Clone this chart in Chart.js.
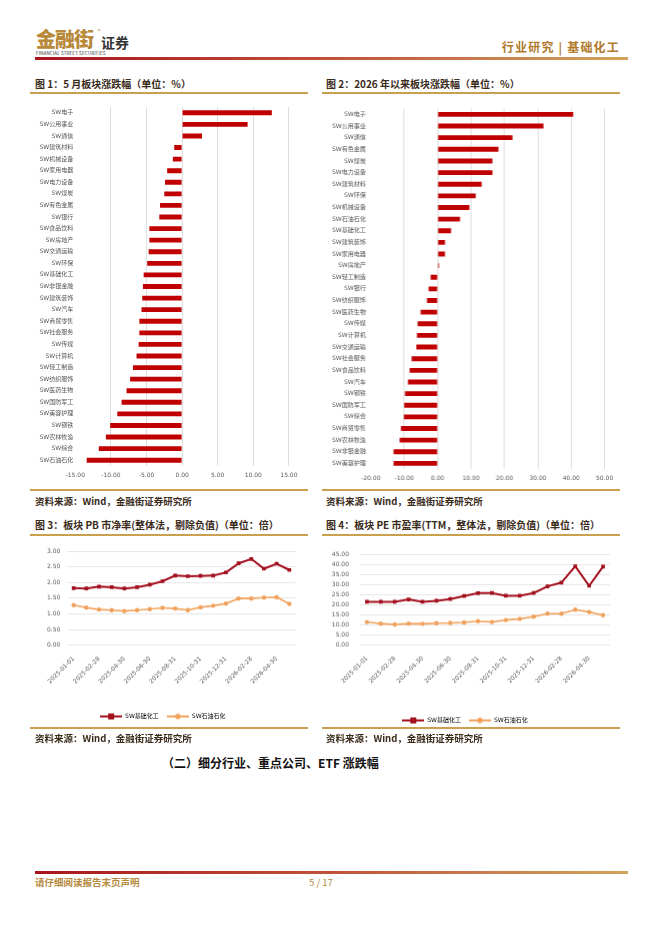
<!DOCTYPE html>
<html>
<head>
<meta charset="utf-8">
<script src="https://cdn.jsdelivr.net/npm/chart.js@4.4.1/dist/chart.umd.min.js"></script>
<style>
    body { margin: 0; background: #fff; }
    #page { position: relative; width: 662px; height: 936px; overflow: hidden; font-family: 'Noto Sans CJK SC', sans-serif; }
    .abs { position: absolute; white-space: nowrap; }
    .title { font-size: 10px; line-height: 10px; font-weight: bold; color: #3a2a1a; }
    .src { font-size: 9.5px; line-height: 10px; font-weight: bold; color: #3a2a1a; }
    .gold { position: absolute; height: 1.5px; background: #c9a04e; }
    .grad { position: absolute; height: 3px; background: linear-gradient(to right, #a8141c, #c0523a 50%, #cfa55c); }
    .box { position: absolute; }
</style>
</head>
<body>
<div id="page">
    <div class="abs" style="left:36px; top:28px; font-size:20px; line-height:22px; font-weight:900; color:#b8893a; letter-spacing:-1px;">金融街</div>
    <div class="abs" style="left:98px; top:28px; font-size:5px; line-height:5px; color:#b8893a;">®</div>
    <div class="abs" style="left:101px; top:35px; font-size:14px; line-height:15px; font-weight:bold; color:#333;">证券</div>
    <div class="abs" style="left:36px; top:51px; font-size:4.6px; line-height:5px; color:#333; letter-spacing:0.1px;">FINANCIAL STREET SECURITIES</div>
    <div class="abs" style="right:42px; top:40px; font-size:12px; line-height:13px; font-weight:bold; color:#b0792c; letter-spacing:1.2px;">行业研究 | 基础化工</div>
    <div class="grad" style="left:35px; top:57px; width:593px;"></div>

    <div class="abs title" style="left:35px; top:79px;">图 1：5 月板块涨跌幅（单位：%）</div>
    <div class="abs title" style="left:326px; top:79px;">图 2：2026 年以来板块涨跌幅（单位：%）</div>
    <div class="gold" style="left:30px; top:92px; width:278px;"></div>
    <div class="gold" style="left:322px; top:92px; width:298px;"></div>

    <div class="box" style="left:30px; top:100px; width:273px; height:386px;"><canvas id="monthChart"></canvas></div>
    <div class="box" style="left:320px; top:100px; width:297.7px; height:389.2px;"><canvas id="ytdChart"></canvas></div>

    <div class="gold" style="left:30px; top:489px; width:278px;"></div>
    <div class="gold" style="left:322px; top:489px; width:298px;"></div>
    <div class="abs src" style="left:35px; top:496px;">资料来源：Wind，金融街证券研究所</div>
    <div class="abs src" style="left:326px; top:496px;">资料来源：Wind，金融街证券研究所</div>

    <div class="abs title" style="left:35px; top:520px;">图 3：板块 PB 市净率(整体法，剔除负值)（单位：倍）</div>
    <div class="abs title" style="left:326px; top:520px;">图 4：板块 PE 市盈率(TTM，整体法，剔除负值)（单位：倍）</div>
    <div class="gold" style="left:30px; top:534px; width:278px;"></div>
    <div class="gold" style="left:322px; top:534px; width:298px;"></div>

    <div class="box" style="left:30px; top:540px; width:270px; height:188.5px;"><canvas id="pbChart"></canvas></div>
    <div class="box" style="left:320px; top:540px; width:295px; height:192.5px;"><canvas id="peChart"></canvas></div>

    <div class="gold" style="left:30px; top:727px; width:278px;"></div>
    <div class="gold" style="left:322px; top:727px; width:298px;"></div>
    <div class="abs src" style="left:35px; top:733px;">资料来源：Wind，金融街证券研究所</div>
    <div class="abs src" style="left:326px; top:733px;">资料来源：Wind，金融街证券研究所</div>

    <div class="abs" style="left:162px; top:756px; font-size:12px; line-height:13px; font-weight:bold; color:#111;">（二）细分行业、重点公司、ETF 涨跌幅</div>

    <div class="grad" style="left:35px; top:871px; width:593px;"></div>
    <div class="abs" style="left:35px; top:877px; font-size:9.5px; line-height:10px; font-weight:bold; color:#b5893c;">请仔细阅读报告末页声明</div>
    <div class="abs" style="left:309px; top:877px; font-size:9.5px; line-height:10px; color:#b5893c;">5 / 17</div>
</div>

<script>
// Figure 1: May sector returns (%)
const monthSectors = ['SW电子', 'SW公用事业', 'SW通信', 'SW建筑材料', 'SW机械设备', 'SW家用电器', 'SW电力设备', 'SW煤炭',
    'SW有色金属', 'SW银行', 'SW食品饮料', 'SW房地产', 'SW交通运输', 'SW环保', 'SW基础化工', 'SW非银金融', 'SW建筑装饰',
    'SW汽车', 'SW商贸零售', 'SW社会服务', 'SW传媒', 'SW计算机', 'SW轻工制造', 'SW纺织服饰', 'SW医药生物', 'SW国防军工',
    'SW美容护理', 'SW钢铁', 'SW农林牧渔', 'SW综合', 'SW石油石化'];
const monthReturns = [12.6, 9.2, 2.8, -1.1, -1.3, -2.1, -2.4, -2.5, -3.1, -3.2, -4.6, -4.6, -4.7, -4.9, -5.4, -5.5, -5.6,
    -5.7, -6.0, -6.0, -6.1, -6.4, -6.9, -7.3, -7.8, -8.5, -9.1, -10.1, -10.7, -11.7, -13.4];

// Figure 2: returns since start of 2026 (%)
const ytdSectors = ['SW电子', 'SW公用事业', 'SW通信', 'SW有色金属', 'SW煤炭', 'SW电力设备', 'SW建筑材料', 'SW环保',
    'SW机械设备', 'SW石油石化', 'SW基础化工', 'SW建筑装饰', 'SW家用电器', 'SW房地产', 'SW轻工制造', 'SW银行', 'SW纺织服饰',
    'SW医药生物', 'SW传媒', 'SW计算机', 'SW交通运输', 'SW社会服务', 'SW食品饮料', 'SW汽车', 'SW钢铁', 'SW国防军工',
    'SW综合', 'SW商贸零售', 'SW农林牧渔', 'SW非银金融', 'SW美容护理'];
const ytdReturns = [40.6, 31.7, 22.4, 18.2, 16.4, 16.4, 13.2, 11.4, 9.5, 6.7, 4.0, 2.2, 2.2, 0.4, -2.1, -2.7, -3.2,
    -5.1, -6.0, -6.2, -6.4, -7.8, -8.4, -8.9, -9.8, -10.0, -10.1, -11.0, -11.4, -13.2, -13.2];

// Figures 3/4: valuation history
const valuationDates = ['2025-01-01', '2025-01-31', '2025-02-28', '2025-03-31', '2025-04-30', '2025-05-31', '2025-06-30',
    '2025-07-31', '2025-08-31', '2025-09-30', '2025-10-31', '2025-11-30', '2025-12-31', '2026-01-31', '2026-02-28',
    '2026-03-31', '2026-04-30', '2026-05-31'];
const chemPB = [1.82, 1.81, 1.87, 1.85, 1.81, 1.85, 1.93, 2.04, 2.22, 2.20, 2.21, 2.22, 2.32, 2.61, 2.75, 2.44, 2.60, 2.40];
const petroPB = [1.28, 1.20, 1.14, 1.12, 1.09, 1.12, 1.15, 1.19, 1.17, 1.12, 1.21, 1.26, 1.33, 1.49, 1.49, 1.52, 1.53, 1.32];
const chemPE = [21.5, 21.5, 21.5, 22.7, 21.5, 22.0, 22.9, 24.4, 25.8, 25.9, 24.5, 24.5, 25.9, 29.2, 31.1, 39.2, 29.5, 39.1];
const petroPE = [11.4, 10.6, 10.2, 10.6, 10.5, 10.8, 10.9, 11.2, 11.8, 11.4, 12.4, 13.0, 14.1, 15.6, 15.6, 17.6, 16.4, 14.8];
const seriesNames = ['SW基础化工', 'SW石油石化'];

const BAR_RED = '#c00000';
const LINE_RED = '#a3101e';
const LINE_ORANGE = '#f0a25c';
const GRID = '#dedede';
const TICK_COLOR = '#5a5a5a';

Chart.defaults.font.family = "'DejaVu Sans', 'Noto Sans CJK SC', sans-serif";
Chart.defaults.font.size = 6;
Chart.defaults.color = TICK_COLOR;
Chart.defaults.animation = false;

document.addEventListener('DOMContentLoaded', () => {
    initializeCharts();
});

function initializeCharts() {
    drawBarChart('monthChart', monthSectors, monthReturns, -15, 15, 5, { top: 7, right: 12 }, 45.3, 2);
    drawBarChart('ytdChart', ytdSectors, ytdReturns, -20, 50, 10, { top: 3.1, right: 12 }, 50.7, 5);
    drawLineChart('pbChart', chemPB, petroPB, 3, 0.5, { top: 11, right: 4.3 }, 37.3, 7, 59.8);
    drawLineChart('peChart', chemPE, petroPE, 45, 5, { top: 7.3, right: 5 }, 40, 11, 64.2);
}

function drawBarChart(id, labels, values, min, max, step, padding, axisWidth, labelGap) {
    new Chart(document.getElementById(id), {
        type: 'bar',
        data: {
            labels: labels,
            datasets: [{
                data: values,
                backgroundColor: BAR_RED,
                barPercentage: 0.42,
                categoryPercentage: 1
            }]
        },
        options: {
            indexAxis: 'y',
            responsive: true,
            maintainAspectRatio: false,
            layout: { padding: padding },
            plugins: { legend: { display: false }, tooltip: { enabled: false } },
            scales: {
                x: {
                    min: min,
                    max: max,
                    border: { display: false },
                    grid: {
                        color: ctx => ctx.index === 0 ? 'rgba(0,0,0,0)' : GRID,
                        drawTicks: false
                    },
                    ticks: { stepSize: step, padding: 5.5, autoSkip: false, callback: v => v.toFixed(2) },
                    afterFit: scale => { scale.height = 20; }
                },
                y: {
                    border: { display: false },
                    grid: { display: false, drawTicks: false },
                    ticks: { padding: labelGap, autoSkip: false, color: '#555' },
                    afterFit: scale => { scale.width = axisWidth; }
                }
            }
        }
    });
}

function makeLegendIcon(color, shape) {
    const c = document.createElement('canvas');
    c.width = 22;
    c.height = 8;
    const g = c.getContext('2d');
    g.strokeStyle = color;
    g.lineWidth = 2;
    g.beginPath();
    g.moveTo(0, 4);
    g.lineTo(22, 4);
    g.stroke();
    g.fillStyle = color;
    if (shape === 'rect') {
        g.fillRect(8, 1, 6, 6);
    } else {
        g.beginPath();
        g.arc(11, 4, 2.8, 0, Math.PI * 2);
        g.fill();
    }
    return c;
}

function drawLineChart(id, redValues, orangeValues, max, step, padding, axisWidth, labelGap, xHeight) {
    const redIcon = makeLegendIcon(LINE_RED, 'rect');
    const orangeIcon = makeLegendIcon(LINE_ORANGE, 'circle');

    new Chart(document.getElementById(id), {
        type: 'line',
        data: {
            labels: valuationDates,
            datasets: [{
                label: seriesNames[0],
                data: redValues,
                borderColor: LINE_RED,
                backgroundColor: LINE_RED,
                borderWidth: 2,
                pointStyle: 'rect',
                pointRadius: 2.6,
                pointBorderWidth: 0,
                tension: 0
            }, {
                label: seriesNames[1],
                data: orangeValues,
                borderColor: LINE_ORANGE,
                backgroundColor: LINE_ORANGE,
                borderWidth: 1.6,
                pointStyle: 'circle',
                pointRadius: 2.2,
                pointBorderWidth: 0,
                tension: 0
            }]
        },
        options: {
            responsive: true,
            maintainAspectRatio: false,
            layout: { padding: padding },
            plugins: {
                tooltip: { enabled: false },
                legend: {
                    position: 'bottom',
                    labels: {
                        usePointStyle: true,
                        pointStyleWidth: 22,
                        boxHeight: 6,
                        padding: 8,
                        color: '#555',
                        generateLabels: chart => chart.data.datasets.map((ds, i) => ({
                            text: ds.label,
                            pointStyle: i === 0 ? redIcon : orangeIcon,
                            fillStyle: ds.borderColor,
                            strokeStyle: ds.borderColor,
                            lineWidth: 0,
                            datasetIndex: i
                        }))
                    }
                }
            },
            scales: {
                x: {
                    offset: true,
                    border: { display: false },
                    grid: { display: false },
                    ticks: {
                        autoSkip: false,
                        minRotation: 45,
                        maxRotation: 45,
                        padding: 2,
                        callback: function (v, i) { return i % 2 === 0 ? this.getLabelForValue(v) : ''; }
                    },
                    afterFit: scale => { scale.height = xHeight; }
                },
                y: {
                    min: 0,
                    max: max,
                    border: { display: false },
                    grid: { color: '#e6e6e6', drawTicks: false },
                    ticks: { stepSize: step, padding: labelGap, autoSkip: false, callback: v => v.toFixed(2) },
                    afterFit: scale => { scale.width = axisWidth; }
                }
            }
        }
    });
}
</script>
</body>
</html>
